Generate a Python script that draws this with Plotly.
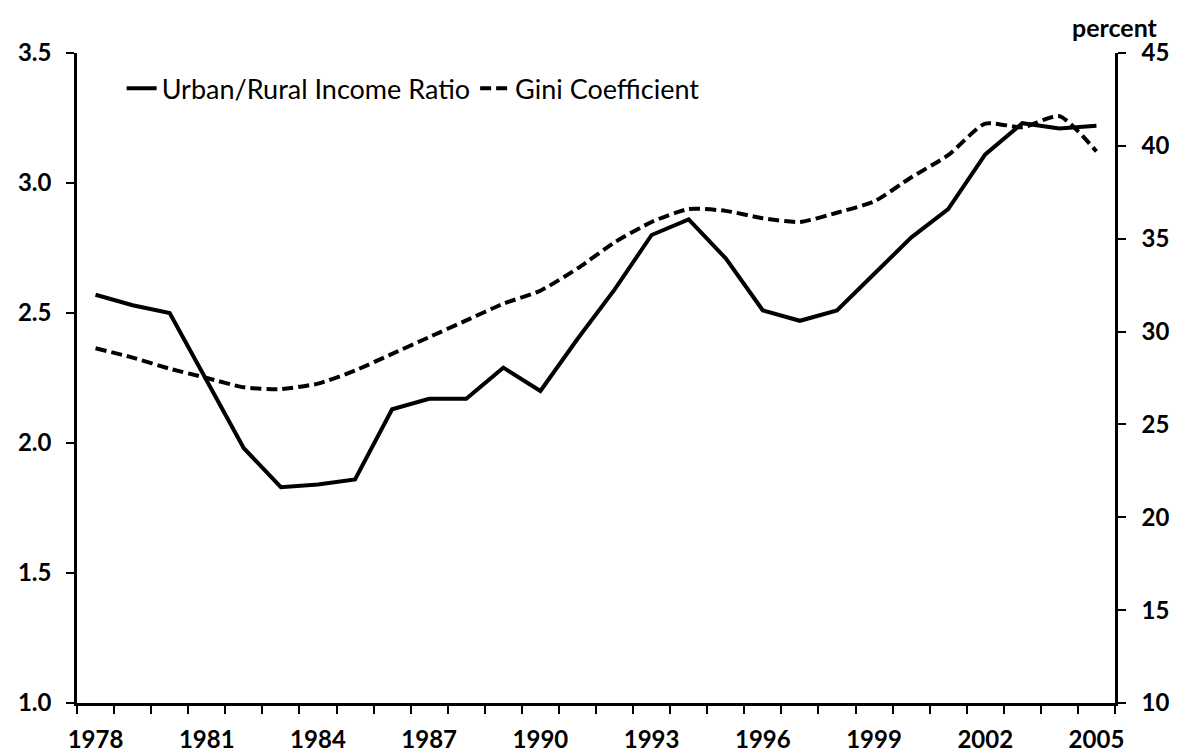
import plotly.graph_objects as go

years = list(range(1978, 2006))
ratio = [2.57, 2.53, 2.50, 2.24, 1.98, 1.83, 1.84, 1.86, 2.13, 2.17, 2.17, 2.29, 2.20, 2.40,
         2.59, 2.80, 2.86, 2.71, 2.51, 2.47, 2.51, 2.65, 2.79, 2.90, 3.11, 3.23, 3.21, 3.22]
gini = [29.1, 28.6, 28.0, 27.5, 27.0, 26.9, 27.2, 27.9, 28.8, 29.7, 30.6, 31.5, 32.2, 33.4,
        34.8, 35.9, 36.6, 36.5, 36.1, 35.9, 36.4, 37.0, 38.3, 39.5, 41.2, 41.0, 41.6, 39.7]
label_years = years[::3]
left_ticks = [1.0, 1.5, 2.0, 2.5, 3.0, 3.5]
right_ticks = [10, 15, 20, 25, 30, 35, 40, 45]

FONT = "Lato"

fig = go.Figure()
fig.add_trace(go.Scatter(x=years, y=ratio, mode="lines", name="Urban/Rural Income Ratio",
                         line=dict(color="black", width=4), yaxis="y"))
fig.add_trace(go.Scatter(x=years, y=gini, mode="lines", name="Gini Coefficient",
                         line=dict(color="black", width=4, dash="11px,5px", shape="spline", smoothing=0.6),
                         yaxis="y2"))

tickfont = dict(family=FONT, size=24, color="black", weight="bold")

# page body has an 8px margin, so the figure is sized to fit the window
fig.update_layout(
    width=1169, height=748,
    margin=dict(l=69, r=62, t=45, b=53),
    paper_bgcolor="white", plot_bgcolor="white",
    font=dict(family=FONT, color="black"),
    showlegend=True,
    legend=dict(orientation="h", x=0.043, y=0.945, xanchor="left", yanchor="middle",
                font=dict(family=FONT, size=27, color="black"),
                bgcolor="rgba(0,0,0,0)", itemwidth=30, tracegroupgap=0),
    xaxis=dict(range=[1977.5, 2005.5], tickmode="array", tickvals=label_years,
               ticktext=[str(y) for y in label_years], ticks="", showgrid=False, zeroline=False,
               showline=True, linecolor="black", linewidth=2.5, tickfont=tickfont,
               ticklabelstandoff=13, automargin=False,
               minor=dict(tick0=1977.5, dtick=1, ticks="outside", ticklen=8, tickwidth=2,
                          tickcolor="black", showgrid=False)),
    yaxis=dict(range=[1.0, 3.5], tickmode="array", tickvals=left_ticks,
               ticktext=[f"{v:.1f}\u2002" for v in left_ticks], ticks="outside", ticklen=8,
               tickwidth=2, tickcolor="black", showgrid=False, zeroline=False, showline=True,
               linecolor="black", linewidth=2.5, tickfont=tickfont, ticklabelstandoff=-2,
               automargin=False),
    yaxis2=dict(range=[10, 45], tickmode="array", tickvals=right_ticks,
                ticktext=[str(v) for v in right_ticks], overlaying="y", side="right",
                ticks="outside", ticklen=8, tickwidth=2, tickcolor="black", showgrid=False,
                zeroline=False, showline=True, linecolor="black", linewidth=2.5,
                tickfont=tickfont, ticklabelstandoff=11, automargin=False),
    annotations=[dict(text="percent", x=1.0, y=1.0, xref="paper", yref="paper",
                      xanchor="center", yanchor="bottom", yshift=9, showarrow=False,
                      font=dict(family=FONT, size=25, color="black", weight="bold"))],
)

fig.write_html("out.html")
